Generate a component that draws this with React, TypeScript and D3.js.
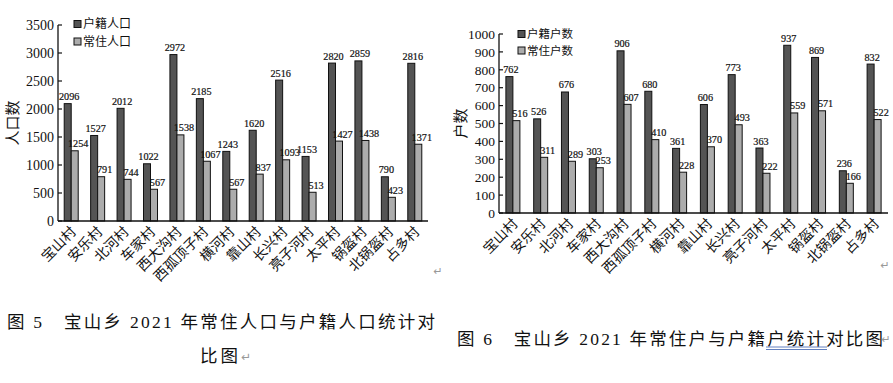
import React from "react";
import * as d3 from "d3";

const villages = ["宝山村","安乐村","北河村","车家村","西大沟村","西孤顶子村","横河村","靠山村","长兴村","亮子河村","太平村","锅盔村","北锅盔村","占多村"];
const regPop = [2096,1527,2012,1022,2972,2185,1243,1620,2516,1153,2820,2859,790,2816];
const resPop = [1254,791,744,567,1538,1067,567,837,1093,513,1427,1438,423,1371];
const regHh = [762,526,676,303,906,680,361,606,773,363,937,869,236,832];
const resHh = [516,311,289,253,607,410,228,370,493,222,559,571,166,522];
const popTicks = [0,500,1000,1500,2000,2500,3000,3500];
const hhTicks = [0,100,200,300,400,500,600,700,800,900,1000];

const DARK = "#545454";
const LIGHT = "#acacac";
const SERIF = "'Liberation Serif','Noto Sans CJK SC',serif";
const CJK = "'Noto Sans CJK SC','Liberation Serif',serif";

type PanelProps = {
  x0: number; x1: number; yTop: number; yBot: number; max: number; ticks: number[];
  reg: number[]; res: number[]; legend: string[]; yTitle: string; yTitleX: number;
  legendX: number; legendY: number; legendGap: number; legendFont: number; tickFont: number;
};

function Panel(p: PanelProps) {
  const x = d3.scaleBand<string>().domain(villages).range([p.x0, p.x1]).padding(0);
  const sub = d3.scaleBand<string>().domain(["r", "s"]).range([-7, 7]).padding(0);
  const y = d3.scaleLinear().domain([0, p.max]).range([p.yBot, p.yTop]);
  const yMid = (p.yTop + p.yBot) / 2;
  return (
    <g>
      {villages.map((v, i) => {
        const c = (x(v) as number) + x.bandwidth() / 2;
        const xr = c + (sub("r") as number);
        const xs = c + (sub("s") as number);
        const w = sub.bandwidth();
        return (
          <g key={v}>
            <rect x={xr} y={y(p.reg[i])} width={w} height={p.yBot - y(p.reg[i])} fill={DARK} stroke="#111" strokeWidth={1} />
            <rect x={xs} y={y(p.res[i])} width={w} height={p.yBot - y(p.res[i])} fill={LIGHT} stroke="#111" strokeWidth={1} />
            <text x={xr + w / 2 + 1.5} y={y(p.reg[i]) - 3.5} textAnchor="middle" fontFamily={SERIF} fontSize={10.2} fill="#111" stroke="#111" strokeWidth={0.2}>{p.reg[i]}</text>
            <text x={xs + w / 2 + 3.5} y={y(p.res[i]) - 3.5} textAnchor="middle" fontFamily={SERIF} fontSize={10.2} fill="#111" stroke="#111" strokeWidth={0.2}>{p.res[i]}</text>
            <text transform={`translate(${c + 3},${p.yBot + 9}) rotate(-45)`} textAnchor="end" dominantBaseline="middle" fontFamily={CJK} fontSize={14} fill="#111">{v}</text>
          </g>
        );
      })}
      <line x1={p.x0} x2={p.x0} y1={p.yTop} y2={p.yBot} stroke="#111" strokeWidth={1.3} />
      <line x1={p.x0} x2={p.x1} y1={p.yBot} y2={p.yBot} stroke="#111" strokeWidth={1.3} />
      {p.ticks.map(t => (
        <g key={t}>
          <line x1={p.x0} x2={p.x0 + 4} y1={y(t)} y2={y(t)} stroke="#111" strokeWidth={1.2} />
          <text x={p.x0 - 4} y={y(t)} dy="0.35em" textAnchor="end" fontFamily={SERIF} fontSize={p.tickFont} fill="#111">{t}</text>
        </g>
      ))}
      <text transform={`translate(${p.yTitleX},${yMid}) rotate(-90)`} textAnchor="middle" dominantBaseline="middle" fontFamily={CJK} fontSize={15} fill="#111">{p.yTitle}</text>
      {p.legend.map((l, i) => (
        <g key={l}>
          <rect x={p.legendX} y={p.legendY + i * p.legendGap - 3.5} width={7} height={7} fill={i === 0 ? DARK : LIGHT} stroke="#111" strokeWidth={1} />
          <text x={p.legendX + 9} y={p.legendY + i * p.legendGap} dy="0.36em" fontFamily={CJK} fontSize={p.legendFont} fill="#111">{l}</text>
        </g>
      ))}
    </g>
  );
}

export default function App() {
  return (
    <svg width={893} height={383} style={{ position: "absolute", left: 0, top: 0, background: "#fff" }}>
      <rect x={0} y={0} width={893} height={383} fill="#fff" />
      <Panel x0={58} x1={428} yTop={25} yBot={221} max={3500} ticks={popTicks} reg={regPop} res={resPop}
        legend={["户籍人口", "常住人口"]} yTitle="人口数" yTitleX={14} legendX={74} legendY={24} legendGap={17.5} legendFont={12} tickFont={14} />
      <Panel x0={499} x1={888} yTop={34} yBot={213} max={1000} ticks={hhTicks} reg={regHh} res={resHh}
        legend={["户籍户数", "常住户数"]} yTitle="户数" yTitleX={462} legendX={518} legendY={34} legendGap={16.5} legendFont={11.5} tickFont={13.5} />
      <text x={438} y={272} textAnchor="middle" dominantBaseline="middle" fontFamily="'DejaVu Sans'" fontSize={11} fill="#999">↵</text>
      <text x={885} y={266} textAnchor="middle" dominantBaseline="middle" fontFamily="'DejaVu Sans'" fontSize={11} fill="#999">↵</text>
      <text x={7} y={328} textLength={428} lengthAdjust="spacing" fontFamily={SERIF} fontSize={17.5} fill="#111">图 5　宝山乡 2021 年常住人口与户籍人口统计对</text>
      <text x={200} y={362} fontFamily={SERIF} fontSize={17.5} fill="#111" textLength={38} lengthAdjust="spacing">比图</text>
      <text x={246} y={357} textAnchor="middle" dominantBaseline="middle" fontFamily="'DejaVu Sans'" fontSize={12} fill="#999">↵</text>
      <text x={457} y={345} textLength={426} lengthAdjust="spacing" fontFamily={SERIF} fontSize={17.5} fill="#111">图 6　宝山乡 2021 年常住户与户籍户统计对比图</text>
      <text x={886} y={340} textAnchor="middle" dominantBaseline="middle" fontFamily="'DejaVu Sans'" fontSize={11} fill="#999">↵</text>
      <line x1={766} x2={827} y1={347} y2={347} stroke="#3a5fb0" strokeWidth={0.8} />
      <line x1={766} x2={827} y1={349.5} y2={349.5} stroke="#3a5fb0" strokeWidth={0.8} />
    </svg>
  );
}
